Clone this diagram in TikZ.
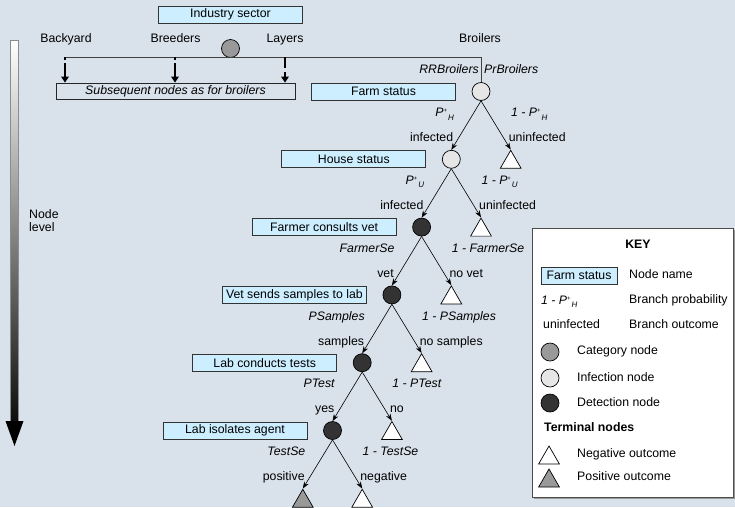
\documentclass[tikz,border=0pt]{standalone}
\usepackage{fontspec}
\setmainfont{Liberation Sans}
\usetikzlibrary{arrows.meta,shapes.geometric}
\definecolor{bg}{HTML}{D9E1EA}
\definecolor{namefill}{HTML}{CCEEFF}
\definecolor{catgrey}{HTML}{999999}
\definecolor{infgrey}{HTML}{E6E6E6}
\definecolor{detgrey}{HTML}{333333}
\newcommand{\Pp}[1]{\textit{P}\raisebox{0.6ex}{\fontsize{6}{6}\selectfont +}\hspace{1pt}\raisebox{-0.55ex}{\fontsize{8}{8}\selectfont\textit{#1}}}
\begin{document}
\begin{tikzpicture}[x=1pt,y=-1pt,font=\fontsize{12.3}{12.8}\selectfont,
  namebox/.style={draw=black!80,fill=namefill,line width=0.8pt,minimum width=144pt,minimum height=17pt,inner sep=0pt},
  catnode/.style={circle,draw=black,fill=catgrey,minimum size=18pt,inner sep=0pt,line width=0.7pt},
  infnode/.style={catnode,fill=infgrey},
  detnode/.style={catnode,fill=detgrey},
  negnode/.style={regular polygon,regular polygon sides=3,draw=black,fill=white,minimum size=24pt,inner sep=0pt,line width=0.7pt},
  posnode/.style={negnode,fill=catgrey},
  branch/.style={-{Stealth[length=7pt,width=5pt]},line width=0.6pt},
  lbl/.style={inner sep=0pt,text height=8.8pt,text depth=2.6pt},
  busline/.style={draw=black!75,line width=0.8pt},
  dasharrowA/.style={line width=2.8pt,dash pattern=on 3pt off 3pt on 30pt,-{Triangle[length=6pt,width=7.5pt]}},
  dasharrowB/.style={line width=2.8pt,dash pattern=on 11pt off 4pt,-{Triangle[length=6pt,width=7.5pt]}}]
\useasboundingbox (0,0) rectangle (735,507);
\fill[bg] (0,0) rectangle (735,507);

% left gradient arrow
\shade[top color=white,bottom color=black!95,draw=black!45,line width=0.6pt] (10,40) rectangle (18,423);
\fill[black] (5.5,421) -- (23.5,421) -- (14.5,446) -- cycle;
\node[lbl,anchor=west,align=left] (nodelevel) at (29,228) {Node\\level};

% top part
\node[namebox] (industry) at (230.5,14.5) {Industry sector};
\node[catnode] (cat) at (230.5,48.5) {};
\node[lbl] (backyard) at (66,39) {Backyard};
\node[lbl] (breeders) at (175.5,39) {Breeders};
\node[lbl] (layers) at (285,39) {Layers};
\node[lbl] (broilers) at (480,39) {Broilers};
\node[draw=black!85,line width=0.8pt,minimum width=239pt,minimum height=16pt,inner sep=0pt] (sub) at (175.5,91) {\textit{Subsequent nodes as for broilers}};

% tree nodes
\node[infnode] (farm) at (481,91.5) {};
\node[infnode] (house) at (451.3,159.3) {};
\node[detnode] (farmer) at (421.6,227.1) {};
\node[detnode] (vet) at (391.9,294.9) {};
\node[detnode] (lab) at (362.2,362.7) {};
\node[detnode] (iso) at (332.5,430.5) {};
\node[posnode] (pos) at (302.8,501.3) {};
\node[negnode] (r1) at (510.7,162.3) {};
\node[negnode] (r2) at (481.0,230.1) {};
\node[negnode] (r3) at (451.3,297.9) {};
\node[negnode] (r4) at (421.6,365.7) {};
\node[negnode] (r5) at (391.9,433.5) {};
\node[negnode] (neg) at (362.2,501.3) {};

% bus line
\coordinate (bk) at (65,57);
\coordinate (br) at (175,57);
\coordinate (ly) at (285,57);
\draw[busline] (bk) -| (farm.north);
\draw[dasharrowA] (bk) -- (bk |- sub.north);
\draw[dasharrowA] (br) -- (br |- sub.north);
\draw[dasharrowB] (ly) -- (ly |- sub.north);
\node[lbl,anchor=east] (rr) at (479,70) {\textit{RRBroilers}};
\node[lbl,anchor=west] (pr) at (484,70) {\textit{PrBroilers}};

% name boxes
\node[namebox] (nfarm) at (383.5,91.5) {Farm status};
\node[namebox] (nhouse) at (353.8,159.3) {House status};
\node[namebox] (nfarmer) at (324.1,227.1) {Farmer consults vet};
\node[namebox] (nvet) at (294.4,294.9) {Vet sends samples to lab};
\node[namebox] (nlab) at (264.7,362.7) {Lab conducts tests};
\node[namebox] (niso) at (235.0,430.5) {Lab isolates agent};

% branches
\draw[branch] (farm.south) -- (house.north);
\draw[branch] (farm.south) -- (r1.north);
\draw[branch] (house.south) -- (farmer.north);
\draw[branch] (house.south) -- (r2.north);
\draw[branch] (farmer.south) -- (vet.north);
\draw[branch] (farmer.south) -- (r3.north);
\draw[branch] (vet.south) -- (lab.north);
\draw[branch] (vet.south) -- (r4.north);
\draw[branch] (lab.south) -- (iso.north);
\draw[branch] (lab.south) -- (r5.north);
\draw[branch] (iso.south) -- (pos.north);
\draw[branch] (iso.south) -- (neg.north);

% probability labels
\node[lbl,anchor=east] (p0l) at (454,113.5) {\Pp{H}};
\node[lbl,anchor=west] (p0r) at (511,113.5) {\textit{1 - }\Pp{H}};
\node[lbl,anchor=east] (p1l) at (424.3,181.3) {\Pp{U}};
\node[lbl,anchor=west] (p1r) at (481.3,181.3) {\textit{1 - }\Pp{U}};
\node[lbl,anchor=east] (p2l) at (394.6,249.1) {\textit{FarmerSe}};
\node[lbl,anchor=west] (p2r) at (451.6,249.1) {\textit{1 - FarmerSe}};
\node[lbl,anchor=east] (p3l) at (364.9,316.9) {\textit{PSamples}};
\node[lbl,anchor=west] (p3r) at (421.9,316.9) {\textit{1 - PSamples}};
\node[lbl,anchor=east] (p4l) at (335.2,384.7) {\textit{PTest}};
\node[lbl,anchor=west] (p4r) at (392.2,384.7) {\textit{1 - PTest}};
\node[lbl,anchor=east] (p5l) at (305.5,452.5) {\textit{TestSe}};
\node[lbl,anchor=west] (p5r) at (362.5,452.5) {\textit{1 - TestSe}};

% outcome labels
\node[lbl,anchor=east] (o0l) at (453.3,138.5) {infected};
\node[lbl,anchor=west] (o0r) at (508.7,138.5) {uninfected};
\node[lbl,anchor=east] (o1l) at (423.6,206.3) {infected};
\node[lbl,anchor=west] (o1r) at (479.0,206.3) {uninfected};
\node[lbl,anchor=east] (o2l) at (393.9,274.1) {vet};
\node[lbl,anchor=west] (o2r) at (449.3,274.1) {no vet};
\node[lbl,anchor=east] (o3l) at (364.2,341.9) {samples};
\node[lbl,anchor=west] (o3r) at (419.6,341.9) {no samples};
\node[lbl,anchor=east] (o4l) at (334.5,409.7) {yes};
\node[lbl,anchor=west] (o4r) at (389.9,409.7) {no};
\node[lbl,anchor=east] (o5l) at (304.8,477.5) {positive};
\node[lbl,anchor=west] (o5r) at (360.2,477.5) {negative};

% key
\fill[black!40] (533.5,229.5) rectangle (734.5,498.5);
\draw[fill=white,draw=black!70,line width=0.8pt] (532,228) rectangle (733,497);
\node[lbl,font=\fontsize{12.3}{12.8}\selectfont\bfseries] (keyt) at (638,245) {KEY};
\node[namebox,minimum width=76pt] (kfarm) at (579,275.5) {Farm status};
\node[lbl,anchor=west] (kfarmt) at (629,275) {Node name};
\node[lbl,anchor=west] (kprob) at (541,301) {\textit{1 - }\Pp{H}};
\node[lbl,anchor=west] (kprobt) at (629,300) {Branch probability};
\node[lbl,anchor=west] (kout) at (543,325) {uninfected};
\node[lbl,anchor=west] (koutt) at (629,325) {Branch outcome};
\node[catnode] (kcat) at (550,352) {};
\node[lbl,anchor=west] (kcatt) at (577,351) {Category node};
\node[infnode] (kinf) at (550,378) {};
\node[lbl,anchor=west] (kinft) at (577,378) {Infection node};
\node[detnode] (kdet) at (550,403) {};
\node[lbl,anchor=west] (kdett) at (577,403) {Detection node};
\node[lbl,anchor=west,font=\fontsize{12.3}{12.8}\selectfont\bfseries] (kterm) at (544,428) {Terminal nodes};
\node[negnode] (kneg) at (549,458) {};
\node[lbl,anchor=west] (knegt) at (577,454) {Negative outcome};
\node[posnode] (kpos) at (549,481) {};
\node[lbl,anchor=west] (kpost) at (577,477) {Positive outcome};
\end{tikzpicture}
\end{document}
